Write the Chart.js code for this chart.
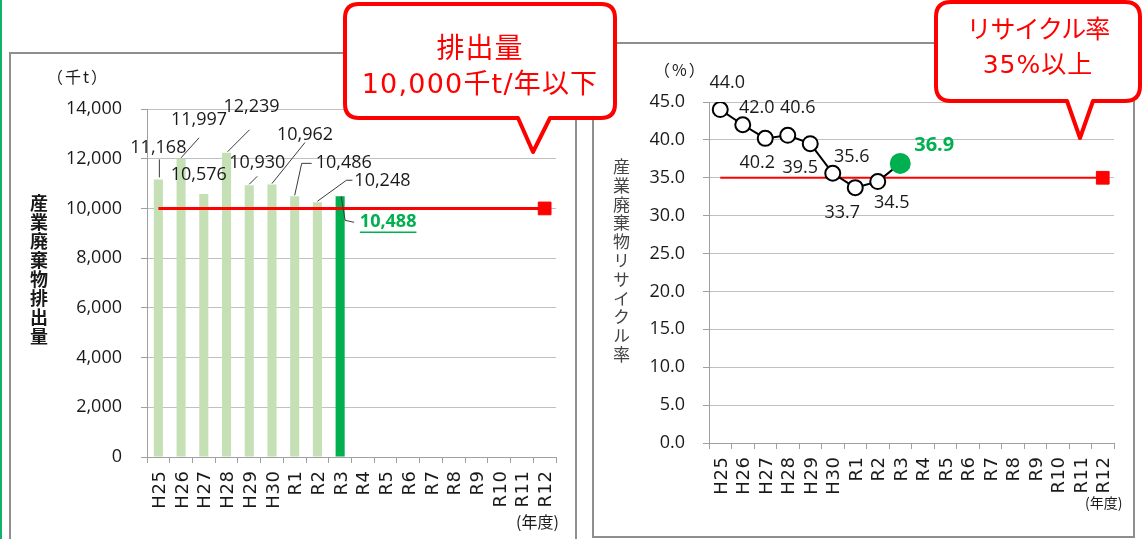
<!DOCTYPE html>
<html lang="ja">
<head>
<meta charset="utf-8">
<title>産業廃棄物排出量・リサイクル率</title>
<script src="https://cdn.jsdelivr.net/npm/chart.js@4.4.1/dist/chart.umd.min.js"></script>
<style>
  html, body { margin: 0; padding: 0; background: #fff; }
  body { width: 1146px; height: 539px; position: relative; overflow: hidden;
         font-family: 'Open Sans', 'Noto Sans CJK JP', sans-serif; color: #1a1a1a; }
  .abs { position: absolute; }
  .frame { position: absolute; border: 2px solid #8e8e8e; box-sizing: border-box; }
  .vtitle { position: absolute; writing-mode: vertical-rl; text-orientation: upright;
            font-family: 'Noto Sans CJK JP', sans-serif; white-space: nowrap; }
  .unit { position: absolute; font-family: 'Noto Sans CJK JP', sans-serif; white-space: nowrap; line-height: 1; }
  .callout-text { position: absolute; color: #ff0000; text-align: center; white-space: nowrap;
                  font-family: 'DejaVu Sans', 'Noto Sans CJK JP', sans-serif; line-height: 1; }
</style>
</head>
<body>
<div class="abs" style="left:0;top:0;width:2px;height:539px;background:#10b36a"></div>
<div class="frame" style="left:9px;top:52px;width:568px;height:520px"></div>
<div class="frame" style="left:592px;top:42px;width:543px;height:496px"></div>

<canvas id="emissionChart" class="abs" width="566" height="487" style="left:10px;top:52px"></canvas>
<canvas id="recycleChart" class="abs" width="540" height="496" style="left:593px;top:43px"></canvas>

<div class="unit" style="left:47px;top:68px;font-size:16px;letter-spacing:2px">（千t）</div>
<div class="vtitle" style="left:26px;top:194px;font-size:18px;font-weight:700;letter-spacing:1px;color:#1a1a1a">産業廃棄物排出量</div>
<div class="unit" style="left:516px;top:513px;font-size:16px">(年度)</div>

<div class="unit" style="left:654px;top:61px;font-size:16px;letter-spacing:2px">（%）</div>
<div class="vtitle" style="left:609px;top:158px;font-size:17px;letter-spacing:1.8px;color:#444">産業廃棄物リサイクル率</div>
<div class="unit" style="left:1085px;top:495px;font-size:14px">(年度)</div>

<svg class="abs" style="left:0;top:0" width="1146" height="539">
  <path d="M359 4 H601 Q615 4 615 18 V104 Q615 118 601 118 H550 L533 152 L518 118 H359 Q345 118 345 104 V18 Q345 4 359 4 Z"
        fill="#fff" stroke="#ff0000" stroke-width="4" stroke-linejoin="round"/>
  <path d="M951 2 H1125 Q1140 2 1140 17 V86 Q1140 101 1125 101 H1093 L1080 138 L1067 101 H951 Q936 101 936 86 V17 Q936 2 951 2 Z"
        fill="#fff" stroke="#ff0000" stroke-width="4" stroke-linejoin="round"/>
</svg>
<div class="callout-text" style="left:345px;width:270px;top:35px;font-size:28px;letter-spacing:1px">排出量</div>
<div class="callout-text" style="left:345px;width:270px;top:70px;font-size:27px;letter-spacing:1.2px">10,000千t/年以下</div>
<div class="callout-text" style="left:936px;width:204px;top:17px;font-size:25px;letter-spacing:-1px">リサイクル率</div>
<div class="callout-text" style="left:936px;width:204px;top:52px;font-size:25px;letter-spacing:1px">35%以上</div>

<script>
// Fiscal years on the horizontal axis
const years = ['H25', 'H26', 'H27', 'H28', 'H29', 'H30', 'R1', 'R2', 'R3',
               'R4', 'R5', 'R6', 'R7', 'R8', 'R9', 'R10', 'R11', 'R12'];

// Industrial waste emissions (thousand t) and the target ceiling
const emissions = [11168, 11997, 10576, 12239, 10930, 10962, 10486, 10248, 10488];
const emissionGoal = 10000;
const emissionTicks = [0, 2000, 4000, 6000, 8000, 10000, 12000, 14000];

// Industrial waste recycling rate (%) and the target floor
const recycleRates = [44.0, 42.0, 40.2, 40.6, 39.5, 35.6, 33.7, 34.5, 36.9];
const recycleGoal = 35;
const rateTicks = [0, 5, 10, 15, 20, 25, 30, 35, 40, 45];

// Placement of the value labels relative to each mark, with optional leader lines
const emissionLabelLayout = [
  { dx: 0,  dy: -32, leader: [[1, -2], [1, -20]] },
  { dx: 18, dy: -39, leader: [[0, -1], [18, -21]] },
  { dx: -5, dy: -19, leader: null },
  { dx: 25, dy: -46, leader: [[1, -1], [23, -23]] },
  { dx: 8,  dy: -22, leader: [[0, -1], [8, -9]] },
  { dx: 33, dy: -50, leader: [[0, -1], [33, -42]] },
  { dx: 49, dy: -33, leader: [[0, -1], [7, -33], [17, -33]] },
  { dx: 65, dy: -21, leader: [[0, -1], [29, -22], [35, -22]] },
  { dx: 48, dy: 26,  leader: [[1, 0], [5, 24], [14, 26]] }
];
const rateLabelLayout = [
  { dx: 7,   dy: -27 }, { dx: 14, dy: -17 }, { dx: -8, dy: 25 },
  { dx: 10,  dy: -27 }, { dx: -10, dy: 24 }, { dx: 19, dy: -16 },
  { dx: -13, dy: 25 },  { dx: 14, dy: 21 },  { dx: 34, dy: -18 }
];

const GREEN = '#00b050';
const LIGHT_GREEN = '#c5e0b4';
const RED = '#ff0000';
const GRID = '#c0c0c0';
const AXIS = '#a0a0a0';
const TEXT = '#1a1a1a';
const NUM_FONT = "'Open Sans', 'Noto Sans CJK JP', sans-serif";

Chart.defaults.font.family = NUM_FONT;
Chart.defaults.color = TEXT;

// Value labels drawn next to bars / points; the latest year is highlighted
const valueLabels = {
  id: 'valueLabels',
  afterDatasetsDraw(chart, args, opts) {
    const ctx = chart.ctx;
    const values = chart.data.datasets[opts.datasetIndex].data;
    const meta = chart.getDatasetMeta(opts.datasetIndex);
    const last = values.length - 1;
    ctx.save();
    meta.data.forEach((el, i) => {
      const v = values[i];
      if (v == null) return;
      const pos = opts.layout[i];
      const x0 = el.x, y0 = el.y;
      if (pos.leader) {
        ctx.beginPath();
        ctx.strokeStyle = '#3a3a3a';
        ctx.lineWidth = 1;
        pos.leader.forEach(([lx, ly], k) => {
          if (k === 0) ctx.moveTo(x0 + lx, y0 + ly); else ctx.lineTo(x0 + lx, y0 + ly);
        });
        ctx.stroke();
      }
      const latest = i === last;
      const txt = opts.format(v);
      ctx.font = latest ? 'bold ' + opts.latestSize + 'px ' + NUM_FONT : opts.size + 'px ' + NUM_FONT;
      ctx.fillStyle = latest ? GREEN : TEXT;
      ctx.textAlign = 'center';
      ctx.textBaseline = 'middle';
      const tx = x0 + pos.dx, ty = y0 + pos.dy;
      ctx.fillText(txt, tx, ty);
      if (latest && opts.underline) {
        const w = ctx.measureText(txt).width;
        ctx.beginPath();
        ctx.strokeStyle = GREEN;
        ctx.lineWidth = 1.5;
        ctx.moveTo(tx - w / 2, ty + 10);
        ctx.lineTo(tx + w / 2, ty + 10);
        ctx.stroke();
      }
    });
    ctx.restore();
  }
};

// Year labels, rotated a quarter turn under each category
const yearLabels = {
  id: 'yearLabels',
  afterDraw(chart, args, opts) {
    const xs = chart.scales.x;
    const ctx = chart.ctx;
    ctx.save();
    ctx.font = opts.size + 'px ' + opts.family;
    ctx.fillStyle = TEXT;
    if ('letterSpacing' in ctx) ctx.letterSpacing = opts.spacing + 'px';
    ctx.textAlign = 'right';
    ctx.textBaseline = 'alphabetic';
    const capHalf = opts.size * 0.729 / 2;
    chart.data.labels.forEach((lab, i) => {
      const x = xs.getPixelForValue(i);
      ctx.save();
      ctx.translate(x, xs.top + opts.offset);
      ctx.rotate(-Math.PI / 2);
      ctx.fillText(lab, opts.spacing, capHalf);
      ctx.restore();
    });
    ctx.restore();
  }
};

function xScale(height) {
  return {
    type: 'category',
    offset: true,
    grid: { offset: true, drawOnChartArea: false, drawTicks: true, tickLength: 6, color: AXIS },
    border: { color: AXIS, width: 1 },
    ticks: { display: false },
    afterFit(s) { s.height = height; }
  };
}
function yScale(ticks, width, padding, fmt) {
  return {
    min: ticks[0],
    max: ticks[ticks.length - 1],
    grid: { color: GRID, lineWidth: 1, drawTicks: true, tickLength: 6, tickColor: AXIS },
    border: { color: AXIS, width: 1 },
    ticks: { stepSize: ticks[1] - ticks[0], padding: padding, font: { size: 18 }, color: TEXT, callback: fmt },
    afterFit(s) { s.width = width; }
  };
}

const last = years.length - 1;
const yearFont = { size: 18, family: "'DejaVu Sans', sans-serif", spacing: 0.6, offset: 14 };

new Chart(document.getElementById('emissionChart'), {
  type: 'bar',
  data: {
    labels: years,
    datasets: [
      {
        type: 'line',
        data: years.map(() => emissionGoal),
        borderColor: RED,
        borderWidth: 3,
        pointStyle: 'rect',
        pointRadius: ctx => ctx.dataIndex === last ? 9 : 0,
        pointBackgroundColor: RED,
        pointBorderColor: RED,
        pointBorderWidth: 1,
        order: 0
      },
      {
        type: 'bar',
        data: emissions,
        backgroundColor: emissions.map((v, i) => i === emissions.length - 1 ? GREEN : LIGHT_GREEN),
        categoryPercentage: 1,
        barPercentage: 0.4,
        order: 1
      }
    ]
  },
  options: {
    responsive: false,
    devicePixelRatio: 1,
    animation: false,
    events: [],
    layout: { autoPadding: false, padding: { left: 0, top: 57, right: 20, bottom: 0 } },
    plugins: {
      legend: { display: false },
      tooltip: { enabled: false },
      valueLabels: { datasetIndex: 1, layout: emissionLabelLayout, size: 18, latestSize: 18, underline: true,
                     format: v => v.toLocaleString('en-US') },
      yearLabels: yearFont
    },
    scales: {
      x: xScale(82),
      y: yScale(emissionTicks, 137, 19, v => v.toLocaleString('en-US'))
    }
  },
  plugins: [valueLabels, yearLabels]
});

new Chart(document.getElementById('recycleChart'), {
  type: 'line',
  data: {
    labels: years,
    datasets: [
      {
        data: recycleRates,
        borderColor: '#000',
        borderWidth: 2,
        pointRadius: ctx => ctx.dataIndex === recycleRates.length - 1 ? 10.5 : 7.5,
        pointBackgroundColor: ctx => ctx.dataIndex === recycleRates.length - 1 ? GREEN : '#fff',
        pointBorderColor: ctx => ctx.dataIndex === recycleRates.length - 1 ? GREEN : '#000',
        pointBorderWidth: ctx => ctx.dataIndex === recycleRates.length - 1 ? 0 : 2,
        order: 0
      },
      {
        data: years.map(() => recycleGoal),
        borderColor: RED,
        borderWidth: 2,
        pointStyle: 'rect',
        pointRadius: ctx => ctx.dataIndex === last ? 9 : 0,
        pointBackgroundColor: RED,
        pointBorderColor: RED,
        pointBorderWidth: 1,
        order: 1
      }
    ]
  },
  options: {
    responsive: false,
    devicePixelRatio: 1,
    animation: false,
    events: [],
    layout: { autoPadding: false, padding: { left: 0, top: 59, right: 19, bottom: 0 } },
    plugins: {
      legend: { display: false },
      tooltip: { enabled: false },
      valueLabels: { datasetIndex: 0, layout: rateLabelLayout, size: 18, latestSize: 20, underline: false,
                     format: v => v.toFixed(1) },
      yearLabels: yearFont
    },
    scales: {
      x: xScale(96),
      y: yScale(rateTicks, 116, 18, v => v.toFixed(1))
    }
  },
  plugins: [valueLabels, yearLabels]
});
</script>
</body>
</html>
